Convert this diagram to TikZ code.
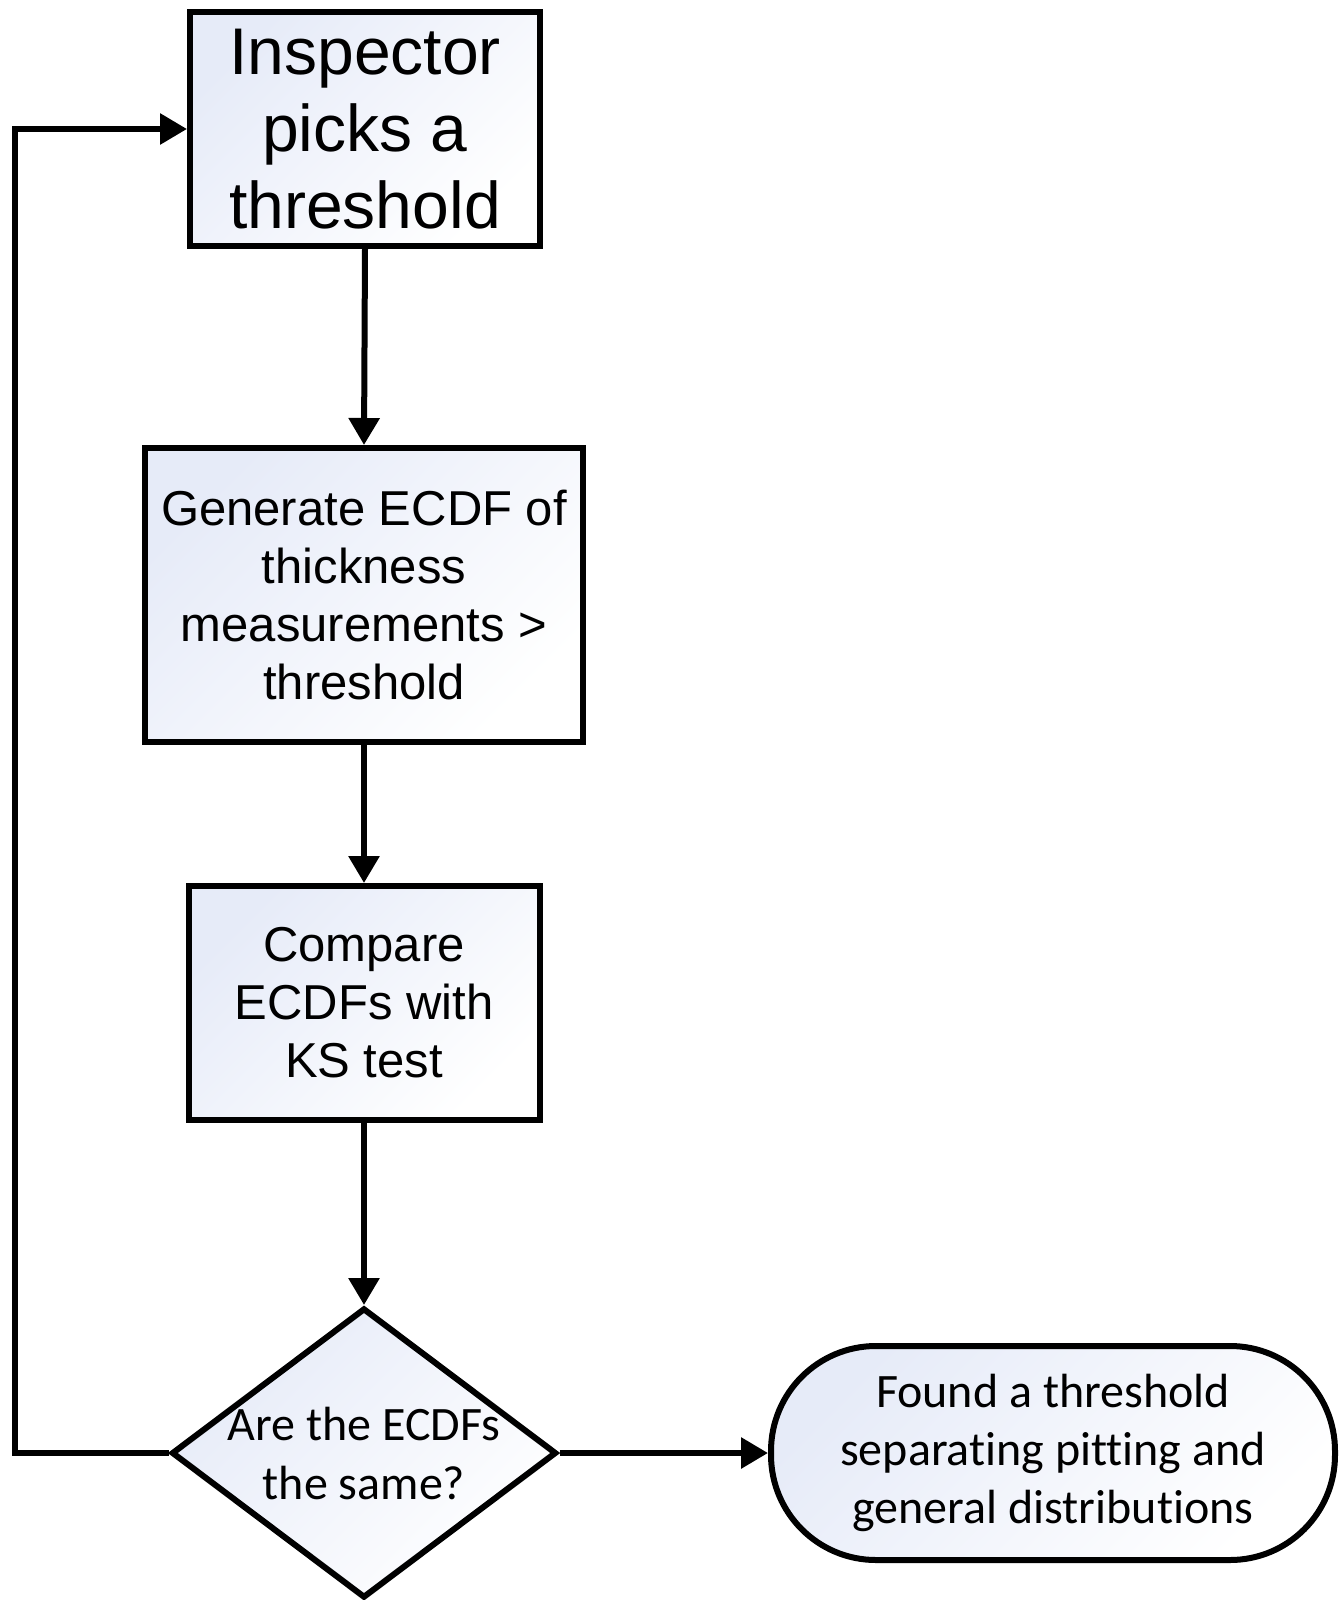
\documentclass[tikz,border=0pt]{standalone}
\usepackage{fontspec}
\setmainfont{Liberation Sans}
\newfontfamily\calfont[Ligatures=NoCommon]{Carlito}
\usetikzlibrary{shapes.geometric,arrows.meta}
\definecolor{gfill}{RGB}{230,235,248}
\tikzset{
  fillgrad/.style={shade, top color=gfill, bottom color=white, shading angle=45},
  procbox/.style={draw=black, line width=6pt, fillgrad, inner sep=0pt, align=center, font=\fontsize{49pt}{58pt}\selectfont},
  decbox/.style={draw=black, line width=6pt, fillgrad, diamond, inner sep=0pt, minimum width=385pt, minimum height=290pt},
  termbox/.style={draw=black, line width=6pt, fillgrad, rounded corners=105pt, inner sep=0pt, align=center, minimum width=564pt, minimum height=214pt, font=\calfont\fontsize{48pt}{58pt}\selectfont},
  conn/.style={line width=6pt, -{Triangle[length=27pt,width=30pt]}}
}
\begin{document}
\begin{tikzpicture}[x=1pt,y=-1pt]
\useasboundingbox (0,0) rectangle (1340,1600);
\node[procbox, minimum width=350pt, minimum height=233pt, font=\fontsize{66pt}{77pt}\selectfont] (b1) at (365,129) {Inspector\\picks a\\threshold};
\node[procbox, minimum width=438pt, minimum height=294pt] (b2) at (364,595) {Generate ECDF of\\thickness\\measurements >\\threshold};
\node[procbox, minimum width=351pt, minimum height=234pt] (b3) at (364,1003) {Compare\\ECDFs with\\KS test};
\node[decbox] (d) at (364,1453) {};
\node[align=center, font=\calfont\fontsize{48pt}{59pt}\selectfont] (dt) at (364,1453) {Are the ECDFs\\the same?};
\node[termbox] (t) at (1053,1453) {Found a threshold\\separating pitting and\\general distributions};
\coordinate (lb) at (15,1453);
\coordinate (lt) at (15,129);
\draw[conn] (b1.south) -- (b2.north);
\draw[conn] (b2.south) -- (b3.north);
\draw[conn] (b3.south) -- (d.north);
\draw[conn] (d.east) -- (t.west);
\draw[conn] (d.west) -- (lb) -- (lt) -- (b1.west);
\end{tikzpicture}
\end{document}
